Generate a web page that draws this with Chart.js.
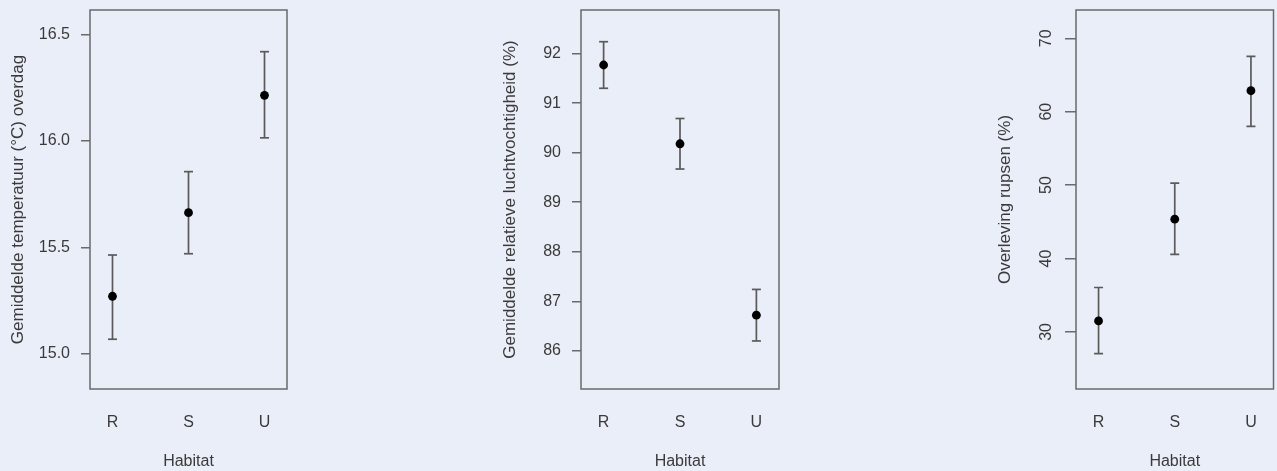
<!DOCTYPE html>
<html>
<head>
<meta charset="utf-8">
<script src="https://cdn.jsdelivr.net/npm/chart.js@4"></script>
<style>
  html, body { margin:0; padding:0; background:#eaeef8; }
  #wrap { position:relative; width:1277px; height:471px; background:#eaeef8; overflow:hidden; }
  .pane { position:absolute; top:0; height:471px; }
</style>
</head>
<body>
<div id="wrap">
  <div class="pane" style="left:0px;width:300px"><canvas id="c1"></canvas></div>
  <div class="pane" style="left:490px;width:300px"><canvas id="c2"></canvas></div>
  <div class="pane" style="left:990px;width:300px"><canvas id="c3"></canvas></div>
</div>
<script>
// ---- data ----
const categories = ['R', 'S', 'U'];
const xTitle = 'Habitat';

const tempMean = [15.27, 15.663, 16.215];
const tempLow  = [15.068, 15.47, 16.015];
const tempHigh = [15.464, 15.856, 16.42];
const tempTicks = [15.0, 15.5, 16.0, 16.5];
const tempTitle = 'Gemiddelde temperatuur (°C) overdag';

const humMean = [91.77, 90.18, 86.72];
const humLow  = [91.30, 89.67, 86.20];
const humHigh = [92.24, 90.69, 87.24];
const humTicks = [86, 87, 88, 89, 90, 91, 92];
const humTitle = 'Gemiddelde relatieve luchtvochtigheid (%)';

const survMean = [31.5, 45.36, 62.86];
const survLow  = [27.05, 40.55, 58.0];
const survHigh = [36.05, 50.27, 67.55];
const survTicks = [30, 40, 50, 60, 70];
const survTitle = 'Overleving rupsen (%)';

// ---- drawing ----
const FONT = '"Liberation Sans", Arial, Helvetica, sans-serif';
const TEXT = '#3a3a3a';
const LINE = '#5a5a5a';

const boxPlugin = {
  id: 'box',
  afterDraw(chart) {
    const a = chart.chartArea, ctx = chart.ctx;
    ctx.save();
    ctx.strokeStyle = '#6a6a6a';
    ctx.lineWidth = 1.5;
    ctx.strokeRect(a.left, a.top, a.right - a.left, a.bottom - a.top);
    ctx.restore();
  }
};

function makePanel(id, cfg) {
  const pts = cfg.mean.map((v, i) => ({x: i + 1, y: v}));
  const err = [];
  cfg.low.forEach((lo, i) => {
    err.push({x: i + 1, y: lo});
    err.push({x: i + 1, y: cfg.high[i]});
    err.push({x: i + 1, y: null});
  });
  new Chart(document.getElementById(id), {
    type: 'scatter',
    data: {
      datasets: [
        { data: pts, backgroundColor: '#000', borderColor: '#000', pointRadius: 4.4, pointHoverRadius: 4.4, borderWidth: 0 },
        { type: 'line', data: err, showLine: true, spanGaps: false, borderColor: LINE, borderWidth: 1.7,
          pointStyle: 'line', pointRadius: 4.5, pointHoverRadius: 4.5, pointBorderColor: LINE, pointBorderWidth: 1.7,
          fill: false, tension: 0 }
      ]
    },
    options: {
      responsive: false,
      maintainAspectRatio: false,
      animation: false,
      devicePixelRatio: 1,
      events: [],
      layout: { padding: { top: 10, right: cfg.padRight, bottom: 0, left: 0 } },
      plugins: { legend: { display: false }, tooltip: { enabled: false } },
      scales: {
        x: {
          type: 'linear', min: 0.704, max: 3.296,
          grid: { display: false },
          border: { display: false },
          afterBuildTicks: s => { s.ticks = categories.map((c, i) => ({value: i + 1})); },
          afterFit: s => { s.height = 82; s.paddingLeft = 0; s.paddingRight = 0; },
          ticks: { color: TEXT, font: { family: FONT, size: 16 }, padding: 16, maxRotation: 0, minRotation: 0,
                   callback: v => categories[Math.round(v) - 1] },
          title: { display: true, text: xTitle, color: TEXT, font: { family: FONT, size: 16 }, padding: { top: 0, bottom: 0 } }
        },
        y: {
          type: 'linear', min: cfg.min, max: cfg.max,
          grid: { display: true, drawOnChartArea: false, drawTicks: true, tickLength: cfg.tl, color: '#6a6a6a', lineWidth: 1.5 },
          border: { display: false },
          afterBuildTicks: s => { s.ticks = cfg.ticks.map(v => ({value: v})); },
          afterFit: s => { s.width = cfg.left; s.paddingTop = 0; s.paddingBottom = 0; },
          ticks: Object.assign({ color: TEXT, font: { family: FONT, size: 16 }, padding: cfg.tickPad,
                   callback: cfg.fmt }, cfg.rot ? { minRotation: 90, maxRotation: 90, crossAlign: 'center' } : {}),
          title: { display: true, text: cfg.title, color: TEXT, font: { family: FONT, size: 17 }, padding: { top: cfg.titlePad, bottom: 0 } }
        }
      }
    },
    plugins: [boxPlugin]
  });
}

function sizeCanvas(id, w) {
  const c = document.getElementById(id);
  c.width = w; c.height = 471; c.style.width = w + 'px'; c.style.height = '471px';
}
sizeCanvas('c1', 300); sizeCanvas('c2', 300); sizeCanvas('c3', 300);

makePanel('c1', { mean: tempMean, low: tempLow, high: tempHigh, ticks: tempTicks, title: tempTitle,
  min: 14.834, max: 16.616, left: 90, padRight: 13, tl: 9, tickPad: 11, titlePad: 8, fmt: v => Number(v).toFixed(1) });
makePanel('c2', { mean: humMean, low: humLow, high: humHigh, ticks: humTicks, title: humTitle,
  min: 85.23, max: 92.88, left: 91, padRight: 11, tl: 9, tickPad: 11, titlePad: 10, fmt: v => String(v) });
makePanel('c3', { mean: survMean, low: survLow, high: survHigh, ticks: survTicks, title: survTitle,
  min: 22.22, max: 73.86, left: 86, padRight: 16.5, tl: 11, tickPad: 10, titlePad: 5, fmt: v => String(v), rot: true });
</script>
</body>
</html>
